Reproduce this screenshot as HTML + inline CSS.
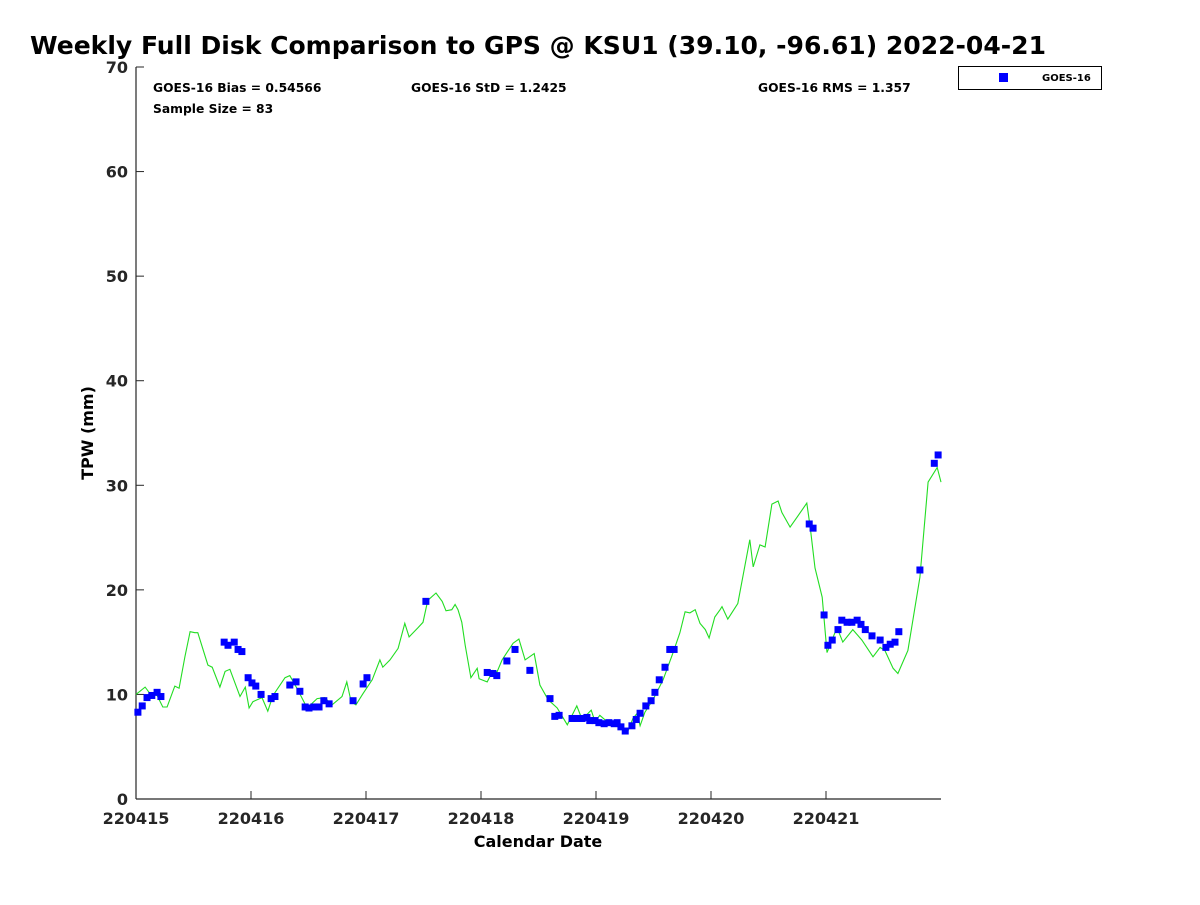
<!DOCTYPE html>
<html><head><meta charset="utf-8"><style>
body{margin:0;background:#fff;width:1200px;height:900px;overflow:hidden}
svg{font-family:"DejaVu Sans","Liberation Sans",sans-serif;font-weight:bold}
</style></head><body>
<svg id="chart" width="1200" height="900" xmlns="http://www.w3.org/2000/svg">
<text x="30" y="54" font-size="25" textLength="1016" lengthAdjust="spacingAndGlyphs">Weekly Full Disk Comparison to GPS @ KSU1 (39.10, -96.61) 2022-04-21</text>
<text x="153" y="92" font-size="12.3">GOES-16 Bias = 0.54566</text>
<text x="153" y="113" font-size="12.3">Sample Size = 83</text>
<text x="411" y="92" font-size="12.3">GOES-16 StD = 1.2425</text>
<text x="758" y="92" font-size="12.3">GOES-16 RMS = 1.357</text>
<g>
<rect x="958.5" y="66.5" width="143" height="23" fill="#fff" stroke="#000" stroke-width="1"/>
<rect x="999" y="73" width="9" height="9" fill="#0000ff"/>
<text x="1042" y="81" font-size="10">GOES-16</text>
</g>
<text transform="translate(93,433) rotate(-90)" text-anchor="middle" font-size="16">TPW (mm)</text>
<text x="538" y="847" text-anchor="middle" font-size="16">Calendar Date</text>
<g id="axes"></g>
<g id="series"></g>
</svg>
<script>
const xTickLabels=["220415","220416","220417","220418","220419","220420","220421"];
const yTickLabels=[0,10,20,30,40,50,60,70];
const gpsHours=[0,1.9,2.9,4.4,5.6,6.5,8.1,9.0,10.2,11.3,12.3,12.9,15.0,15.9,17.5,18.6,19.6,21.7,22.8,23.6,24.4,26.3,27.5,28.6,31.1,32.1,33.8,35.7,37.8,39.4,40.9,43.0,44.0,44.9,45.9,47.4,49.3,50.9,51.5,53.0,54.7,56.1,57.0,58.9,59.9,60.9,62.6,63.9,64.7,65.9,66.6,67.2,68.0,68.7,69.9,71.2,71.6,73.3,74.5,75.3,76.4,78.7,79.9,81.2,83.1,84.3,86.0,87.9,90.0,92.0,93.1,95.0,95.8,96.8,98.3,100.4,101.6,102.5,103.7,104.6,105.2,106.2,107.9,110.0,112.1,113.5,114.6,115.6,116.7,117.7,118.8,119.6,120.8,121.9,122.3,123.5,125.6,128.1,128.8,130.2,131.3,132.7,134.0,134.8,136.5,138.2,140.0,140.7,141.7,143.2,144.2,146.3,147.5,149.6,151.5,153.8,155.3,156.3,158.0,159.0,161.1,163.6,165.3,167.2,168.0];
const gpsTPW=[10.0,10.7,10.1,9.9,8.8,8.8,10.8,10.6,13.6,16.0,15.9,15.9,12.8,12.6,10.7,12.2,12.4,9.8,10.7,8.7,9.3,9.7,8.4,9.9,11.6,11.8,10.4,8.7,9.6,9.7,9.0,9.8,11.2,9.3,9.0,10.1,11.4,13.3,12.6,13.3,14.4,16.8,15.5,16.4,16.9,19.0,19.7,18.9,18.0,18.1,18.6,18.1,16.9,14.7,11.6,12.5,11.5,11.2,12.3,12.1,13.3,14.9,15.3,13.3,13.9,10.9,9.5,8.7,7.1,8.9,7.6,8.5,7.4,8.0,7.4,7.3,6.6,6.3,7.7,8.2,7.0,8.3,9.5,11.4,14.0,15.9,17.9,17.8,18.1,16.8,16.2,15.4,17.4,18.1,18.4,17.2,18.7,24.8,22.2,24.3,24.1,28.2,28.5,27.4,26.0,27.1,28.3,26.0,22.1,19.3,14.0,16.4,15.0,16.2,15.2,13.6,14.5,14.2,12.5,12.0,14.2,21.2,30.3,31.7,30.3];
const goesHours=[0.4,1.3,2.3,3.3,4.4,5.2,18.4,19.2,20.5,21.3,22.1,23.4,24.2,25.0,26.1,28.2,29.0,32.1,33.4,34.2,35.3,36.1,37.1,38.2,39.2,40.3,45.3,47.4,48.2,60.5,73.3,74.5,75.3,77.4,79.1,82.2,86.4,87.4,88.3,91.0,92.0,93.1,94.1,94.7,95.8,96.6,97.7,98.7,99.8,100.4,101.2,102.1,103.5,104.4,105.2,106.4,107.5,108.3,109.2,110.4,111.4,112.3,140.5,141.3,143.6,144.4,145.3,146.5,147.3,148.4,149.4,150.5,151.3,152.2,153.6,155.3,156.5,157.4,158.4,159.2,163.6,166.6,167.4];
const goesTPW=[8.3,8.9,9.7,9.9,10.2,9.8,15.0,14.7,15.0,14.3,14.1,11.6,11.1,10.8,10.0,9.6,9.8,10.9,11.2,10.3,8.8,8.7,8.8,8.8,9.4,9.1,9.4,11.0,11.6,18.9,12.1,12.0,11.8,13.2,14.3,12.3,9.6,7.9,8.0,7.7,7.7,7.7,7.8,7.5,7.5,7.3,7.2,7.3,7.2,7.3,6.9,6.5,7.0,7.6,8.2,8.9,9.4,10.2,11.4,12.6,14.3,14.3,26.3,25.9,17.6,14.7,15.2,16.2,17.1,16.9,16.9,17.1,16.7,16.2,15.6,15.2,14.5,14.8,15.0,16.0,21.9,32.1,32.9];

const NS="http://www.w3.org/2000/svg";
const L=136,R=941,T=67,B=799;
const xs=h=>L+(R-L)*h/168;
const ys=v=>B-(B-T)*v/70;
function mk(tag,attrs,parent){const e=document.createElementNS(NS,tag);for(const k in attrs)e.setAttribute(k,attrs[k]);parent.appendChild(e);return e;}
const axes=document.getElementById('axes');
const ser=document.getElementById('series');
const yAxis=mk('line',{x1:L,y1:T,x2:L,y2:B,stroke:'#262626','stroke-width':1.2},axes);


const xAxis=mk('line',{x1:L,y1:B,x2:R,y2:B,stroke:'#262626','stroke-width':1.2},axes);


yTickLabels.forEach(v=>{
  const y=ys(v);
  mk('line',{x1:L,y1:y,x2:L+8,y2:y,stroke:'#262626'},axes);
  const t=mk('text',{x:L-8,y:y+6,'text-anchor':'end','font-size':16,fill:'#262626'},axes);
  t.textContent=v;
  
  
});
xTickLabels.forEach((lab,i)=>{
  const x=xs(i*24);
  mk('line',{x1:x,y1:B,x2:x,y2:B-8,stroke:'#262626'},axes);
  const t=mk('text',{x:x,y:B+25,'text-anchor':'middle','font-size':16,fill:'#262626'},axes);
  t.textContent=lab;
  
  
});
const line=mk('polyline',{points:gpsHours.map((h,i)=>xs(h).toFixed(1)+','+ys(gpsTPW[i]).toFixed(1)).join(' '),fill:'none',stroke:'#22dd22','stroke-width':1.1},ser);


goesHours.forEach((h,i)=>{
  const r=mk('rect',{x:xs(h)-3.5,y:ys(goesTPW[i])-3.5,width:7,height:7,fill:'#0000ff'},ser);
  
  
});
</script>
</body></html>
